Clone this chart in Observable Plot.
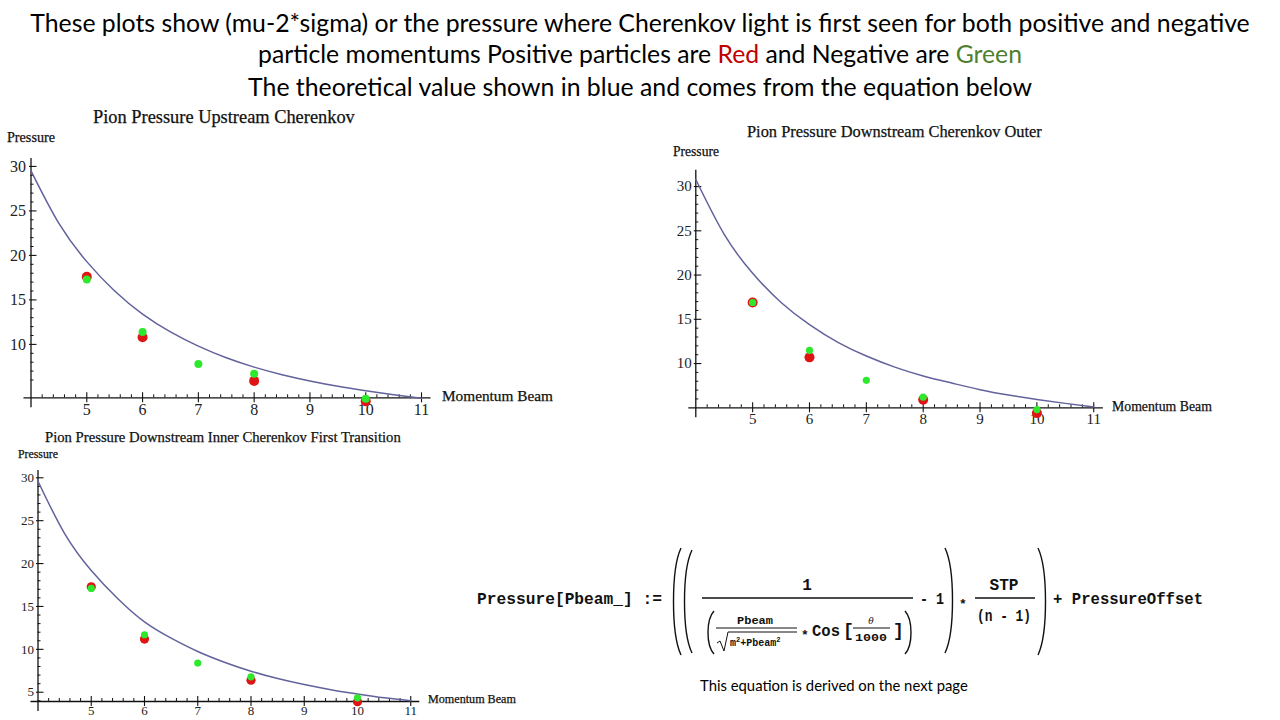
<!DOCTYPE html>
<html><head><meta charset="utf-8">
<script src="https://cdn.jsdelivr.net/npm/d3@7"></script>
<script src="https://cdn.jsdelivr.net/npm/@observablehq/plot@0.6"></script>
<style>
html,body{margin:0;padding:0;background:#fff;}
body{width:1280px;height:720px;overflow:hidden;position:relative;}
.tline{position:absolute;left:0;width:1280px;text-align:center;font-family:Lato,'Open Sans',sans-serif;color:#000;white-space:nowrap;line-height:1;}
.tline span.in{display:inline-block;}
.lbl{position:absolute;white-space:nowrap;line-height:1;font-family:'Liberation Serif',serif;color:#111;-webkit-text-stroke:0.25px #111;}
.plotbox{position:absolute;}
#caption{position:absolute;white-space:nowrap;line-height:1;font-family:Lato,'Open Sans',sans-serif;color:#000;}
</style></head>
<body>
<div class="tline" id="t1"><span class="in">These plots show (mu-2*sigma) or the pressure where Cherenkov light is first seen for both positive and negative</span></div>
<div class="tline" id="t2"><span class="in">particle momentums Positive particles are <span style="color:#c00000">Red</span> and Negative are <span style="color:#4f7f2f">Green</span></span></div>
<div class="tline" id="t3"><span class="in">The theoretical value shown in blue and comes from the equation below</span></div>

<div id="p1" class="plotbox" style="left:0px;top:105px;"></div>
<div id="p2" class="plotbox" style="left:660px;top:120px;"></div>
<div id="p3" class="plotbox" style="left:0px;top:425px;"></div>

<svg id="eq" style="position:absolute;left:460px;top:540px;" width="760" height="125" viewBox="460 540 760 125"></svg>
<div id="caption">This equation is derived on the next page</div>

<script>
// ---------- data ----------
const xTickLabels = [5, 6, 7, 8, 9, 10, 11];
const yTickLabelsA = [10, 15, 20, 25, 30];
const yTickLabelsB = [5, 10, 15, 20, 25, 30];
const curveMomentum = [4, 4.5, 5, 5.5, 6, 6.5, 7, 7.5, 8, 8.5, 9, 9.5, 10, 10.5, 11];

// Pion Pressure Upstream Cherenkov
const upstreamTheory = [29.5, 23.6, 19.3, 16.0, 13.4, 11.4, 9.8, 8.5, 7.45, 6.6, 5.9, 5.3, 4.8, 4.35, 3.95];
const upstreamPosMomentum = [5, 6, 8, 10];
const upstreamPosPressure = [17.6, 10.8, 5.9, 3.6];
const upstreamNegMomentum = [5, 6, 7, 8, 10];
const upstreamNegPressure = [17.3, 11.4, 7.8, 6.7, 3.9];

// Pion Pressure Downstream Cherenkov Outer
const outerTheory = [30.8, 24.6, 20.2, 16.9, 14.4, 12.4, 10.85, 9.6, 8.6, 7.8, 7.05, 6.45, 5.95, 5.5, 5.1];
const outerPosMomentum = [5, 6, 8, 10];
const outerPosPressure = [16.9, 10.7, 5.9, 4.4];
const outerNegMomentum = [5, 6, 7, 8, 10];
const outerNegPressure = [16.9, 11.5, 8.1, 6.2, 4.8];

// Pion Pressure Downstream Inner Cherenkov First Transition
const innerTheory = [29.6, 23.5, 19.2, 15.9, 13.2, 11.3, 9.75, 8.5, 7.45, 6.6, 5.9, 5.3, 4.8, 4.35, 4.0];
const innerPosMomentum = [5, 6, 8, 10];
const innerPosPressure = [17.3, 11.2, 6.4, 3.9];
const innerNegMomentum = [5, 6, 7, 8, 10];
const innerNegPressure = [17.1, 11.7, 8.4, 6.8, 4.35];

// ---------- helpers ----------
const zip = (ps, vs) => ps.map((p, i) => ({p, v: vs[i]}));

function makePlot(c) {
  const [x0, x1] = c.xDomain, [y0, y1] = c.yDomain;
  const minorX = d3.range(42, 111, 2).map(v => v / 10).filter(v => Math.abs(v - Math.round(v)) > 1e-6);
  const minorY = d3.range(Math.ceil(y0), 31).filter(v => v % 5 !== 0 && v > y0);
  const majorY = c.yTicks;
  return Plot.plot({
    width: c.width, height: c.height,
    marginLeft: c.ml, marginRight: c.mr, marginTop: c.mt, marginBottom: c.mb,
    x: {domain: c.xDomain, label: null},
    y: {domain: c.yDomain, label: null},
    style: {fontFamily: "'Liberation Serif', serif", fontSize: c.fontSize + "px", background: "transparent", overflow: "visible", color: "#222"},
    marks: [
      Plot.ruleY([y0], {x1: x0, x2: x1, insetLeft: -7, stroke: "#111", strokeWidth: 1.3}),
      Plot.ruleX([x0], {y1: y1, y2: y0, insetBottom: -10, stroke: "#111", strokeWidth: 1.3}),
      Plot.ruleX(xTickLabels, {x: d => d, y1: y0, y2: y0, insetTop: -5, insetBottom: -5, stroke: "#111", strokeWidth: 1.1}),
      Plot.ruleX(minorX, {x: d => d, y1: y0, y2: y0, insetTop: -3, insetBottom: 0, stroke: "#111", strokeWidth: 1}),
      Plot.ruleY(majorY, {y: d => d, x1: x0, x2: x0, insetLeft: -1.5, insetRight: -6, stroke: "#111", strokeWidth: 1.1}),
      Plot.ruleY(minorY, {y: d => d, x1: x0, x2: x0, insetLeft: 0, insetRight: -3, stroke: "#111", strokeWidth: 1}),
      Plot.axisX({ticks: xTickLabels, tickSize: 0, tickPadding: c.xPad, tickFormat: d => String(d), label: null}),
      Plot.axisY({ticks: majorY, tickSize: 0, tickPadding: c.yPad, tickFormat: d => String(d), label: null}),
      Plot.line(zip(curveMomentum, c.theory), {x: "p", y: "v", curve: "natural", stroke: "#62629c", strokeWidth: 1.5}),
      Plot.dot(zip(c.posP, c.pos), {x: "p", y: "v", r: c.rPos, fill: "#e01414"}),
      Plot.dot(zip(c.negP, c.neg), {x: "p", y: "v", r: c.rNeg, fill: "#2ee82e"})
    ]
  });
}

document.getElementById("p1").append(makePlot({
  width: 560, height: 315, ml: 30.5, mr: 129.5, mt: 52.9, mb: 22.7,
  xDomain: [4, 11.17], yDomain: [4, 30.9], yTicks: yTickLabelsA, fontSize: 16, xPad: 6, yPad: 5,
  theory: upstreamTheory,
  posP: upstreamPosMomentum, pos: upstreamPosPressure, negP: upstreamNegMomentum, neg: upstreamNegPressure,
  rPos: 5, rNeg: 4
}));
document.getElementById("p2").append(makePlot({
  width: 560, height: 310, ml: 35.3, mr: 117.1, mt: 49.7, mb: 22.7,
  xDomain: [4, 11.17], yDomain: [5, 31.85], yTicks: yTickLabelsA, fontSize: 15, xPad: 6, yPad: 4,
  theory: outerTheory,
  posP: outerPosMomentum, pos: outerPosPressure, negP: outerNegMomentum, neg: outerNegPressure,
  rPos: 5, rNeg: 3.6
}));
document.getElementById("p3").append(makePlot({
  width: 530, height: 295, ml: 37.5, mr: 110.7, mt: 45, mb: 19,
  xDomain: [4, 11.17], yDomain: [3.92, 30.85], yTicks: yTickLabelsB, fontSize: 13, xPad: 4, yPad: 4,
  theory: innerTheory,
  posP: innerPosMomentum, pos: innerPosPressure, negP: innerNegMomentum, neg: innerNegPressure,
  rPos: 4.6, rNeg: 3.6
}));

// ---------- text placement (fit to measured widths) ----------
function placeFit(el, left, right, yc, size, center) {
  el.style.fontSize = size + "px";
  const inner = el.querySelector(".in") || el;
  const w = inner.getBoundingClientRect().width;
  const s = size * (right - left) / w;
  el.style.fontSize = s + "px";
  if (!center) el.style.left = left + "px";
  el.style.top = (yc - 0.55 * s) + "px";
}
function addLabel(text, left, right, yc, size) {
  const d = document.createElement("div");
  d.className = "lbl"; d.textContent = text;
  document.body.append(d);
  placeFit(d, left, right, yc, size, false);
}
placeFit(document.getElementById("t1"), 30, 1250, 25, 22, true);
placeFit(document.getElementById("t2"), 258, 1022, 56, 22, true);
placeFit(document.getElementById("t3"), 248, 1032, 88, 22, true);

addLabel("Pion Pressure Upstream Cherenkov", 93, 355, 118, 18);
addLabel("Pressure", 7, 55, 138, 13);
addLabel("Momentum Beam", 442, 553, 396, 15);

addLabel("Pion Pressure Downstream Cherenkov Outer", 747, 1042, 133, 16);
addLabel("Pressure", 673, 719, 152, 12);
addLabel("Momentum Beam", 1112, 1212, 408, 14);

addLabel("Pion Pressure Downstream Inner Cherenkov First Transition", 45, 401, 438, 14);
addLabel("Pressure", 18, 58, 455, 11);
addLabel("Momentum Beam", 428, 516, 700, 12);

placeFit(document.getElementById("caption"), 700, 968, 686, 13, false);

// ---------- equation ----------
const svg = d3.select("#eq");
const mono = "'Liberation Mono', 'DejaVu Sans Mono', monospace";
function t(x, y, s, size, anchor, len) {
  const e = svg.append("text").attr("x", x).attr("y", y).attr("font-family", mono)
    .attr("font-weight", "bold")
    .attr("font-size", size).attr("text-anchor", anchor || "start").attr("dominant-baseline", "central")
    .attr("fill", "#111").text(s);
  if (len) e.attr("textLength", len).attr("lengthAdjust", "spacingAndGlyphs");
  return e;
}
function paren(x, yTop, yBot, bulge) {
  const h = yBot - yTop;
  svg.append("path").attr("d", `M${x},${yTop} C${x + bulge},${yTop + h * 0.2} ${x + bulge},${yBot - h * 0.2} ${x},${yBot}`)
    .attr("fill", "none").attr("stroke", "#111").attr("stroke-width", 1.4);
}
function hline(x1, x2, y, w) {
  svg.append("line").attr("x1", x1).attr("x2", x2).attr("y1", y).attr("y2", y).attr("stroke", "#111").attr("stroke-width", w || 1.1);
}
t(477, 600, "Pressure[Pbeam_] :=", 16, "start", 185);
paren(681, 548, 655, -10);
paren(692, 550, 653, -10);
t(807, 586, "1", 16, "middle");
hline(702, 913, 598, 1.3);
paren(714, 611, 654, -8);
t(755, 621, "Pbeam", 10, "middle", 36);
hline(716, 797, 628, 1);
svg.append("path").attr("d", "M717,643 L720,641 L724,651 L728,632 L797,632").attr("fill", "none").attr("stroke", "#111").attr("stroke-width", 1);
const rad = t(730, 643, "m", 10);
rad.append("tspan").attr("font-size", 7).attr("dy", -3).text("2");
rad.append("tspan").attr("dy", 3).text("+Pbeam");
rad.append("tspan").attr("font-size", 7).attr("dy", -3).text("2");
t(805, 635, "*", 13, "middle");
t(812, 632, "Cos", 16, "start", 28);
t(843, 631, "[", 18);
svg.append("text").attr("x", 871).attr("y", 621).attr("font-family", "'DejaVu Serif', serif").attr("font-style", "italic")
  .attr("font-size", 9).attr("text-anchor", "middle").attr("dominant-baseline", "central").attr("fill", "#111").text("θ");
hline(853, 890, 628, 1);
t(871, 638, "1000", 11, "middle", 32);
t(893, 631, "]", 18);
paren(905, 611, 654, 8);
t(920, 600, "- 1", 16, "start", 24);
paren(945, 548, 653, 10);
t(963, 604, "*", 13, "middle");
t(1004, 586, "STP", 16, "middle", 29);
hline(975, 1035, 598, 1.3);
t(1004, 617, "(n - 1)", 16, "middle", 54);
paren(1038, 548, 655, 10);
t(1053, 600, "+ PressureOffset", 16, "start", 150);
</script>
</body></html>
